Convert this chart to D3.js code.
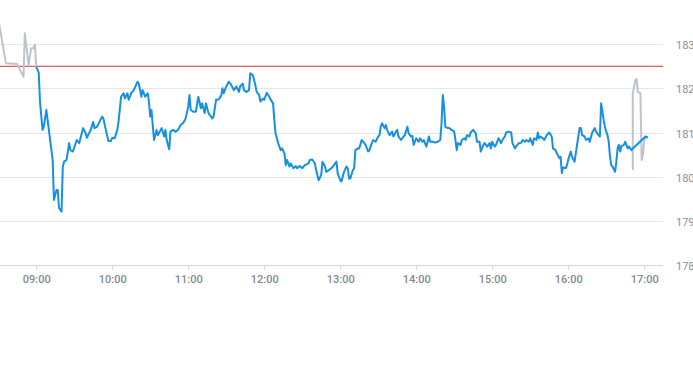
<!DOCTYPE html>
<html><head><meta charset="utf-8">
<script src="https://cdn.jsdelivr.net/npm/d3@7"></script>
<style>
html,body{margin:0;padding:0;background:#fff;}
svg{display:block;font-family:Roboto,"Helvetica Neue",Arial,sans-serif;}
</style>
</head><body>
<svg id="chart" width="693" height="365"></svg>
<script>
// ---- data ----
const yTicks = [178, 179, 180, 181, 182, 183];
const xTickLabels = ["09:00","10:00","11:00","12:00","13:00","14:00","15:00","16:00","17:00"];
const prevClose = 182.5;
const xDomain = ["08:30", "17:15"];

const preTimes  = ["08:30","08:36","08:45","08:50","08:51","08:54","08:56","08:58","08:59","09:00"];
const preValues = [183.60,182.57,182.55,182.26,183.25,182.53,182.91,182.91,182.99,182.49];

const sessionTimes = [
"09:00","09:02","09:03","09:05","09:06","09:08","09:10","09:11","09:13","09:14",
"09:16","09:17","09:18","09:20","09:21","09:22","09:24","09:26","09:27","09:29",
"09:32","09:34","09:37","09:39","09:40","09:43","09:45","09:46","09:48","09:52",
"09:53","09:55","09:57","09:59","10:00","10:02","10:04","10:05","10:07","10:09",
"10:10","10:12","10:13","10:15","10:17","10:20","10:21","10:23","10:24","10:26",
"10:28","10:29","10:30","10:31","10:33","10:34","10:35","10:36","10:39","10:41",
"10:42","10:43","10:45","10:46","10:48","10:50","10:52","10:54","10:56","10:58",
"11:00","11:01","11:02","11:04","11:06","11:08","11:10","11:11","11:13","11:14",
"11:16","11:19","11:20","11:22","11:24","11:26","11:27","11:28","11:30","11:32",
"11:34","11:36","11:37","11:38","11:40","11:41","11:43","11:44","11:46","11:48",
"11:49","11:51","11:53","11:54","11:56","11:57","11:59","12:00","12:02","12:04",
"12:05","12:07","12:08","12:09","12:11","12:13","12:14","12:16","12:17","12:18",
"12:20","12:21","12:23","12:25","12:26","12:28","12:30","12:32","12:35","12:36",
"12:38","12:40","12:41","12:43","12:45","12:46","12:48","12:49","12:51","12:53",
"12:55","12:57","12:58","13:00","13:01","13:03","13:05","13:06","13:07","13:08",
"13:10","13:11","13:12","13:14","13:15","13:17","13:19","13:20","13:22","13:23",
"13:25","13:26","13:28","13:30","13:31","13:32","13:33","13:35","13:36","13:37",
"13:39","13:41","13:42","13:44","13:45","13:46","13:48","13:50","13:51","13:53",
"13:54","13:56","13:57","13:58","14:00","14:02","14:03","14:05","14:06","14:08",
"14:10","14:11","14:13","14:15","14:17","14:19","14:20","14:21","14:22","14:23",
"14:25","14:26","14:28","14:30","14:31","14:32","14:33","14:35","14:36","14:38",
"14:39","14:40","14:42","14:43","14:45","14:47","14:48","14:50","14:51","14:53",
"14:54","14:56","14:58","14:59","15:00","15:02","15:03","15:05","15:07","15:08",
"15:10","15:11","15:13","15:15","15:16","15:18","15:19","15:21","15:23","15:24",
"15:26","15:27","15:29","15:30","15:32","15:33","15:35","15:36","15:37","15:38",
"15:40","15:41","15:43","15:45","15:47","15:48","15:50","15:51","15:53","15:54",
"15:55","15:56","15:58","15:59","16:00","16:02","16:03","16:05","16:06","16:08",
"16:09","16:10","16:11","16:13","16:14","16:16","16:17","16:19","16:21","16:22",
"16:24","16:25","16:26","16:28","16:29","16:30","16:31","16:32","16:33","16:34",
"16:35","16:37","16:38","16:39","16:40","16:41","16:42","16:44","16:45","16:46",
"16:47","16:48","16:50","16:51","17:01","17:03"];
const sessionValues = [
182.49,182.35,181.70,181.06,181.13,181.51,181.06,180.83,180.38,179.47,
179.70,179.70,179.29,179.21,180.23,180.34,180.38,180.76,180.60,180.57,
180.83,180.76,181.10,180.99,180.88,181.06,181.24,181.10,181.13,181.36,
181.32,181.06,180.81,180.81,180.88,180.87,181.06,181.24,181.81,181.89,
181.77,181.89,181.74,181.89,181.96,182.15,182.11,181.81,181.96,181.81,
181.89,181.70,181.36,181.51,180.83,180.94,181.06,180.94,181.10,180.91,
181.06,180.83,180.62,181.02,181.06,181.02,181.06,181.17,181.21,181.32,
181.58,181.85,181.51,181.47,181.47,181.81,181.55,181.66,181.44,181.66,
181.44,181.32,181.36,181.74,181.75,181.83,182.00,181.89,182.04,182.15,
182.08,181.96,182.00,182.04,181.92,182.04,182.11,181.96,181.92,181.96,
182.34,182.30,182.08,181.92,181.85,181.70,181.77,181.74,181.90,181.81,
181.75,181.66,181.28,180.98,180.76,180.60,180.64,180.53,180.26,180.38,
180.23,180.30,180.19,180.24,180.19,180.24,180.19,180.26,180.30,180.38,
180.39,180.30,180.15,179.92,180.04,180.34,180.23,180.11,180.15,180.19,
180.26,180.34,180.08,179.92,179.89,180.11,180.23,180.19,179.96,179.96,
180.15,180.19,180.60,180.64,180.64,180.83,180.76,180.72,180.57,180.59,
180.76,180.83,180.79,180.91,180.94,181.13,181.21,181.10,181.17,181.06,
180.94,181.02,180.91,181.02,181.06,180.91,180.83,180.91,180.94,181.13,
180.98,180.91,180.92,180.72,180.87,180.79,180.87,180.79,180.83,180.68,
180.91,180.79,180.79,180.77,180.79,180.83,181.21,181.85,181.58,181.13,
181.10,181.10,181.06,181.02,180.83,180.60,180.76,180.72,180.83,180.87,
180.83,180.94,180.91,181.00,181.06,180.98,180.79,180.79,180.57,180.72,
180.76,180.68,180.76,180.64,180.79,180.68,180.72,180.87,180.76,180.83,
180.91,181.00,181.02,181.00,180.76,180.64,180.69,180.76,180.77,180.83,
180.79,180.83,180.79,180.87,180.72,180.87,180.83,181.00,180.87,180.91,
180.87,180.83,180.94,181.00,180.91,180.64,180.60,180.53,180.42,180.45,
180.08,180.21,180.19,180.26,180.38,180.57,180.45,180.34,180.53,180.91,
181.10,181.10,180.94,180.91,180.83,180.87,180.79,181.00,181.10,181.02,
180.94,180.91,181.66,181.28,181.13,181.02,180.94,180.79,180.45,180.26,
180.23,180.11,180.34,180.64,180.72,180.57,180.69,180.72,180.79,180.72,
180.64,180.68,180.60,180.64,180.91,180.89];

const afterTimes  = ["16:51","16:51","16:53","16:54","16:55","16:57","16:58","16:59","17:00","17:02"];
const afterValues = [180.15,181.89,182.19,182.21,181.92,181.89,180.38,180.49,180.83,180.89];

// ---- chart ----
const parse = d3.timeParse("%H:%M");
const zip = (ts, vs) => ts.map((t, i) => ({t: parse(t), v: vs[i]}));
const pre = zip(preTimes, preValues);
const session = zip(sessionTimes, sessionValues);
const after = zip(afterTimes, afterValues);

const plotLeft = 0, plotRight = 663, plotTop = 44.2, plotBottom = 265;

const x = d3.scaleTime().domain(xDomain.map(parse)).range([-1.8, 663.2]);
const y = d3.scaleLinear().domain([d3.min(yTicks), d3.max(yTicks)]).range([plotBottom, plotTop]);

const svg = d3.select("#chart");

// grid lines
svg.append("g").selectAll("line").data(yTicks.filter(v => v !== d3.min(yTicks))).join("line")
  .attr("x1", plotLeft).attr("x2", plotRight)
  .attr("y1", d => Math.round(y(d)) + 0.5).attr("y2", d => Math.round(y(d)) + 0.5)
  .attr("stroke", "#e4e6e8").attr("stroke-width", 1);

// y labels
svg.append("g").selectAll("text").data(yTicks).join("text")
  .attr("x", 676).attr("y", d => y(d) + 5)
  .attr("fill", "#87929d").attr("font-size", 11)
  .text(d => d);

// x axis
const xAxis = d3.axisBottom(x)
  .tickValues(xTickLabels.map(parse))
  .tickFormat(d3.timeFormat("%H:%M"))
  .tickSize(4).tickPadding(6);
const gx = svg.append("g").attr("transform", `translate(0,${Math.round(plotBottom) + 0.5})`).call(xAxis);
gx.select(".domain").remove();
gx.selectAll(".tick line").attr("stroke", "#cfd4d9");
gx.selectAll(".tick text").attr("fill", "#7f8a95").attr("font-size", 11).attr("font-weight", 500)
  .attr("font-family", "Roboto,'Helvetica Neue',Arial,sans-serif");
svg.append("line").attr("x1", plotLeft).attr("x2", plotRight)
  .attr("y1", Math.round(plotBottom) + 0.5).attr("y2", Math.round(plotBottom) + 0.5)
  .attr("stroke", "#d3d7db").attr("stroke-width", 1);

// previous close line
svg.append("line").attr("x1", plotLeft).attr("x2", plotRight)
  .attr("y1", y(prevClose)).attr("y2", y(prevClose))
  .attr("stroke", "#d9302c").attr("stroke-width", 1);

const line = d3.line().x(d => x(d.t)).y(d => y(d.v));

svg.append("path").datum(pre).attr("d", line)
  .attr("fill", "none").attr("stroke", "#bcc5cc").attr("stroke-width", 2).attr("stroke-linejoin", "round");
svg.append("path").datum(after).attr("d", line)
  .attr("fill", "none").attr("stroke", "#bcc5cc").attr("stroke-width", 2).attr("stroke-linejoin", "round");
svg.append("path").datum(session).attr("d", line)
  .attr("fill", "none").attr("stroke", "#1590e3").attr("stroke-width", 2).attr("stroke-linejoin", "round");
</script>
</body></html>
